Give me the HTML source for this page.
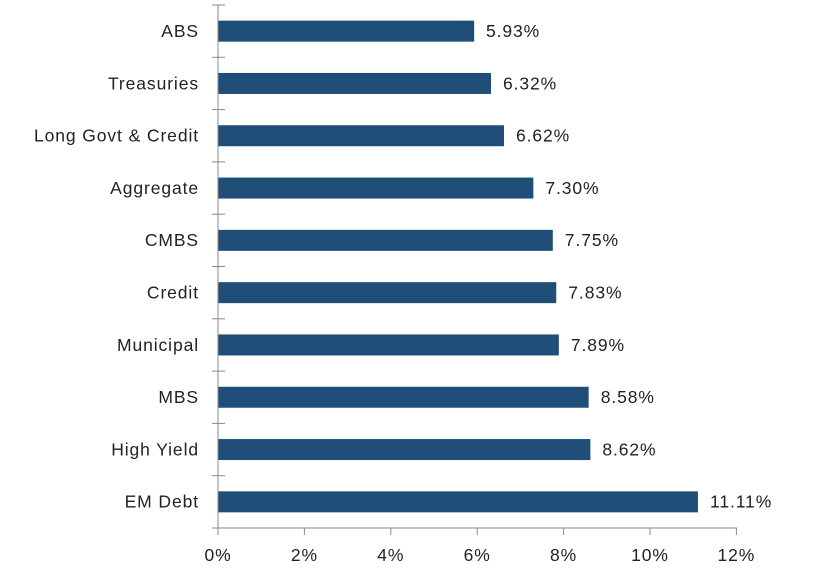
<!DOCTYPE html>
<html><head><meta charset="utf-8"><style>body{margin:0;background:#fff}</style></head><body>
<svg width="825" height="583" xmlns="http://www.w3.org/2000/svg" font-family="Liberation Sans, sans-serif" font-size="17.5" letter-spacing="0.9" fill="#222">
<g fill="#1f4e79">
<rect x="218" y="20.65" width="256.18" height="21"/>
<rect x="218" y="72.95" width="273.02" height="21"/>
<rect x="218" y="125.25" width="285.98" height="21"/>
<rect x="218" y="177.55" width="315.36" height="21"/>
<rect x="218" y="229.85" width="334.8" height="21"/>
<rect x="218" y="282.15" width="338.26" height="21"/>
<rect x="218" y="334.45" width="340.85" height="21"/>
<rect x="218" y="386.75" width="370.66" height="21"/>
<rect x="218" y="439.05" width="372.38" height="21"/>
<rect x="218" y="491.35" width="479.95" height="21"/>
</g>
<g text-anchor="end">
<text x="199" y="37">ABS</text>
<text x="199" y="89.3">Treasuries</text>
<text x="199" y="141.6">Long Govt &amp; Credit</text>
<text x="199" y="193.9">Aggregate</text>
<text x="199" y="246.2">CMBS</text>
<text x="199" y="298.5">Credit</text>
<text x="199" y="350.8">Municipal</text>
<text x="199" y="403.1">MBS</text>
<text x="199" y="455.4">High Yield</text>
<text x="199" y="507.7">EM Debt</text>
</g>
<text x="486" y="37">5.93%</text>
<text x="503" y="89.3">6.32%</text>
<text x="516" y="141.6">6.62%</text>
<text x="545.4" y="193.9">7.30%</text>
<text x="564.8" y="246.2">7.75%</text>
<text x="568.3" y="298.5">7.83%</text>
<text x="570.9" y="350.8">7.89%</text>
<text x="600.7" y="403.1">8.58%</text>
<text x="602.4" y="455.4">8.62%</text>
<text x="710" y="507.7">11.11%</text>
<g stroke="#888" stroke-width="1">
<line x1="218" x2="218" y1="5" y2="528"/>
<line x1="212" x2="737" y1="528" y2="528"/>
<line x1="212" x2="225" y1="5" y2="5"/>
<line x1="212" x2="225" y1="57.3" y2="57.3"/>
<line x1="212" x2="225" y1="109.6" y2="109.6"/>
<line x1="212" x2="225" y1="161.9" y2="161.9"/>
<line x1="212" x2="225" y1="214.2" y2="214.2"/>
<line x1="212" x2="225" y1="266.5" y2="266.5"/>
<line x1="212" x2="225" y1="318.8" y2="318.8"/>
<line x1="212" x2="225" y1="371.1" y2="371.1"/>
<line x1="212" x2="225" y1="423.4" y2="423.4"/>
<line x1="212" x2="225" y1="475.7" y2="475.7"/>
<line x1="218" x2="218" y1="528" y2="535"/>
<line x1="304.4" x2="304.4" y1="528" y2="535"/>
<line x1="390.8" x2="390.8" y1="528" y2="535"/>
<line x1="477.2" x2="477.2" y1="528" y2="535"/>
<line x1="563.6" x2="563.6" y1="528" y2="535"/>
<line x1="650" x2="650" y1="528" y2="535"/>
<line x1="736.4" x2="736.4" y1="528" y2="535"/>
</g>
<g text-anchor="middle">
<text x="218" y="561">0%</text>
<text x="304.4" y="561">2%</text>
<text x="390.8" y="561">4%</text>
<text x="477.2" y="561">6%</text>
<text x="563.6" y="561">8%</text>
<text x="650" y="561">10%</text>
<text x="736.4" y="561">12%</text>
</g>
</svg>
</body></html>
